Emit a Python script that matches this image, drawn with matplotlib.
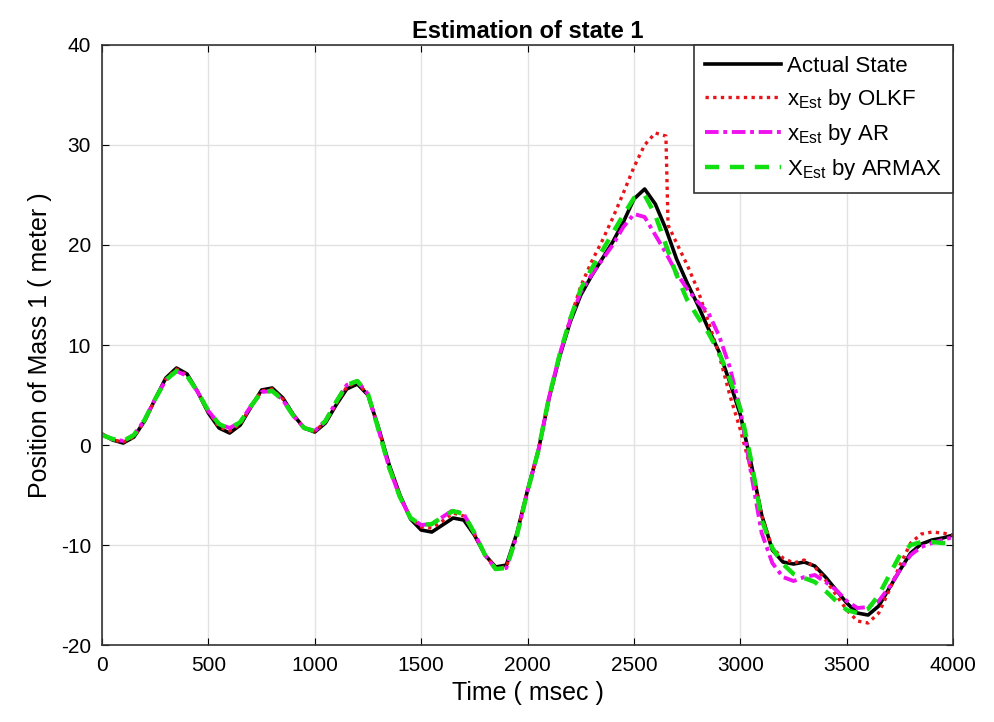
import matplotlib
matplotlib.use("Agg")
import matplotlib.pyplot as plt
import numpy as np

plt.rcParams["font.family"] = ["Liberation Sans", "DejaVu Sans"]
plt.rcParams["axes.unicode_minus"] = False

# tiempo comun (ms)
tiempo = np.arange(0, 4001, 50)

estado_real = [
    1.1, 0.5, 0.2, 0.8, 2.4, 4.6, 6.7, 7.7, 7.1, 5.3,
    3.2, 1.7, 1.2, 2.0, 3.8, 5.5, 5.7, 4.7, 3.0, 1.7,
    1.3, 2.2, 4.0, 5.6, 6.1, 5.0, 1.7, -2.0, -5.0, -7.4,
    -8.5, -8.7, -8.0, -7.3, -7.5, -9.0, -11.0, -12.2, -12.0, -8.8,
    -4.5, -0.6, 4.6, 8.8, 12.3, 15.0, 16.9, 18.6, 20.3, 22.3,
    24.6, 25.6, 24.1, 21.6, 18.6, 16.2, 14.0, 11.6, 9.3, 6.3,
    3.0, -1.8, -7.0, -10.5, -11.7, -11.9, -11.7, -12.1, -13.2, -14.5,
    -15.8, -16.8, -17.0, -16.1, -14.3, -12.5, -10.8, -9.9, -9.5, -9.3,
    -9.0,
]

# OLKF tiene un punto extra en 2660 ms (caida brusca)
tiempo_olkf = np.sort(np.append(tiempo, 2660))
est_olkf = [
    1.1, 0.5, 0.3, 0.8, 2.4, 4.6, 6.6, 7.6, 7.0, 5.3,
    3.3, 1.8, 1.4, 2.1, 3.8, 5.4, 5.6, 4.6, 3.0, 1.7,
    1.4, 2.3, 4.1, 5.8, 6.3, 5.0, 1.6, -2.1, -5.1, -7.3,
    -8.2, -8.3, -7.6, -6.8, -7.1, -8.9, -11.0, -12.3, -12.2, -8.9,
    -4.5, -0.6, 4.7, 9.0, 12.6, 15.9, 18.3, 20.4, 22.7, 25.2,
    27.8, 30.0, 31.2, 30.9, 22.0, 20.2, 18.0, 15.5, 12.3, 9.0, 5.0,
    1.5, -2.5, -7.0, -10.3, -11.3, -11.8, -11.5, -12.2, -13.5, -15.0,
    -16.5, -17.6, -17.8, -16.8, -14.5, -12.0, -9.8, -8.9, -8.7, -8.8,
    -9.0,
]

est_ar = [
    1.0, 0.6, 0.4, 1.0, 2.5, 4.6, 6.5, 7.4, 6.9, 5.3,
    3.4, 2.1, 1.7, 2.3, 3.9, 5.3, 5.4, 4.5, 2.9, 1.7,
    1.4, 2.4, 4.3, 6.0, 6.4, 5.1, 1.5, -2.3, -5.2, -7.3,
    -8.0, -7.9, -7.2, -6.5, -6.9, -8.8, -11.0, -12.4, -12.3, -9.0,
    -4.6, -0.6, 4.7, 9.0, 12.5, 15.3, 17.0, 18.5, 20.0, 21.8,
    23.1, 22.8, 21.0, 19.2, 17.2, 15.6, 14.3, 13.2, 10.9, 7.8,
    3.5, -2.8, -8.8, -11.8, -13.2, -13.6, -13.2, -13.0, -13.7, -14.5,
    -15.6, -16.3, -16.2, -15.6, -14.2, -12.5, -11.0, -10.2, -9.8, -9.5,
    -9.2,
]

est_armax = [
    1.0, 0.6, 0.4, 1.0, 2.5, 4.6, 6.5, 7.4, 6.9, 5.3,
    3.4, 2.1, 1.6, 2.3, 3.9, 5.3, 5.4, 4.5, 2.9, 1.7,
    1.4, 2.4, 4.3, 6.0, 6.4, 5.1, 1.5, -2.3, -5.2, -7.3,
    -8.0, -7.9, -7.2, -6.6, -6.9, -8.8, -11.0, -12.4, -12.3, -9.0,
    -4.6, -0.6, 4.7, 9.0, 12.6, 15.6, 17.6, 19.4, 21.2, 23.0,
    24.7, 25.0, 23.0, 20.0, 17.0, 14.5, 12.8, 11.2, 9.2, 6.6,
    3.6, -1.5, -7.5, -10.3, -11.9, -12.9, -13.3, -13.7, -14.6, -15.6,
    -16.5, -16.8, -16.4, -15.0, -13.0, -11.0, -10.0, -9.7, -9.7, -9.8,
    -9.8,
]

fig = plt.figure(figsize=(9.95, 7.22), dpi=100)
ax = fig.add_axes([0.1025, 0.1066, 0.8555, 0.8311])

ax.plot(tiempo, estado_real, color="black", linewidth=2.6, label="Actual State")
ax.plot(tiempo_olkf, est_olkf, color="#e8141a", linestyle=(0, (1, 1.3)), linewidth=2.4,
        label=r"x$_\mathregular{Est}$ by OLKF")
ax.plot(tiempo, est_ar, color="#f010f0", linestyle=(0, (3.5, 1.2, 1, 1.2)), linewidth=2.8,
        label=r"x$_\mathregular{Est}$ by AR")
ax.plot(tiempo, est_armax, color="#10e010", linestyle=(0, (3.2, 2.4)), linewidth=3.2,
        label=r"X$_\mathregular{Est}$ by ARMAX")

ax.set_xlim(0, 4000)
ax.set_ylim(-20, 40)
ax.set_xticks(np.arange(0, 4001, 500))
ax.set_yticks(np.arange(-20, 41, 10))
ax.grid(True, color="#e2e2e2", linewidth=1.0)
ax.tick_params(direction="in", top=True, right=True, labelsize=15, length=5, pad=8)
for lado in ax.spines.values():
    lado.set_linewidth(1.2)
    lado.set_color("#333333")

ax.set_xlabel("Time ( msec )", fontsize=18, labelpad=4)
ax.set_ylabel("Position of Mass 1 ( meter )", fontsize=18, labelpad=6)
ax.set_title("Estimation of state 1", fontsize=17, fontweight="bold", pad=5)

leg = ax.legend(loc="upper right", fontsize=16, fancybox=False, edgecolor="#333333",
                borderaxespad=0, handlelength=3.4, handletextpad=0.3, framealpha=1,
                labelspacing=0.45, borderpad=0.5)
leg.get_frame().set_linewidth(1.2)

fig.savefig("out.png", dpi=100)
